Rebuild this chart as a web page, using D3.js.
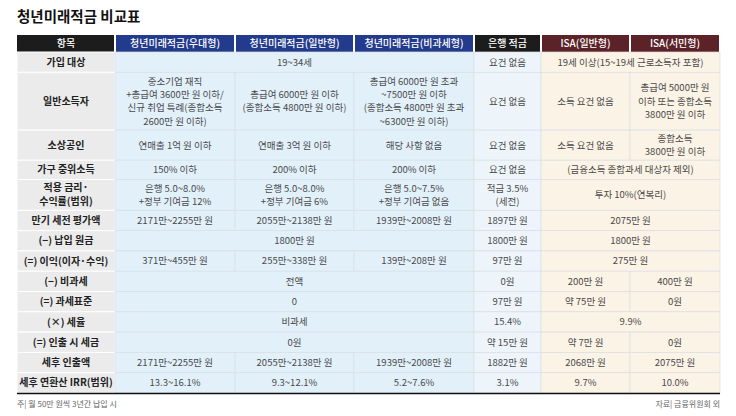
<!DOCTYPE html>
<html><head><meta charset="utf-8">
<script src="https://cdn.jsdelivr.net/npm/d3@7/dist/d3.min.js"></script>
<style>body{margin:0;background:#fff}svg{display:block;font-family:"Noto Sans CJK KR","Noto Sans",sans-serif}</style>
</head><body><svg id="c" width="736" height="416"></svg>
<script>
const title = "청년미래적금 비교표";
const headers = ["항목","청년미래적금(우대형)","청년미래적금(일반형)","청년미래적금(비과세형)","은행 적금","ISA(일반형)","ISA(서민형)"];
const rowLabels = ["가입 대상","일반소득자","소상공인","가구 중위소득","적용 금리·\n수익률(범위)","만기 세전 평가액","(−) 납입 원금","(=) 이익(이자·수익)","(−) 비과세","(=) 과세표준","(×) 세율","(=) 인출 시 세금","세후 인출액","세후 연환산 IRR(범위)"];
const rowLines = [1,2.85,1.48,0.95,1.52,1,1,1,1,1,1,1,1,1];
const cells = [
 [["19~34세",3],["요건 없음",1],["19세 이상(15~19세 근로소득자 포함)",2]],
 [["중소기업 재직\n+총급여 3600만 원 이하/\n신규 취업 특례(종합소득\n2600만 원 이하)",1],["총급여 6000만 원 이하\n(종합소득 4800만 원 이하)",1],["총급여 6000만 원 초과\n~7500만 원 이하\n(종합소득 4800만 원 초과\n~6300만 원 이하)",1],["요건 없음",1],["소득 요건 없음",1],["총급여 5000만 원\n이하 또는 종합소득\n3800만 원 이하",1]],
 [["연매출 1억 원 이하",1],["연매출 3억 원  이하",1],["해당 사항 없음",1],["요건 없음",1],["소득 요건 없음",1],["종합소득\n3800만 원 이하",1]],
 [["150% 이하",1],["200% 이하",1],["200% 이하",1],["요건 없음",1],["(금융소득 종합과세 대상자 제외)",2]],
 [["은행 5.0~8.0%\n+정부 기여금 12%",1],["은행 5.0~8.0%\n+정부 기여금 6%",1],["은행 5.0~7.5%\n+정부 기여금 없음",1],["적금 3.5%\n(세전)",1],["투자 10%(연복리)",2]],
 [["2171만~2255만 원",1],["2055만~2138만 원",1],["1939만~2008만 원",1],["1897만 원",1],["2075만 원",2]],
 [["1800만 원",3],["1800만 원",1],["1800만 원",2]],
 [["371만~455만 원",1],["255만~338만 원",1],["139만~208만 원",1],["97만 원",1],["275만 원",2]],
 [["전액",3],["0원",1],["200만 원",1],["400만 원",1]],
 [["0",3],["97만 원",1],["약 75만 원",1],["0원",1]],
 [["비과세",3],["15.4%",1],["9.9%",2]],
 [["0원",3],["약 15만 원",1],["약 7만 원",1],["0원",1]],
 [["2171만~2255만 원",1],["2055만~2138만 원",1],["1939만~2008만 원",1],["1882만 원",1],["2068만 원",1],["2075만 원",1]],
 [["13.3~16.1%",1],["9.3~12.1%",1],["5.2~7.6%",1],["3.1%",1],["9.7%",1],["10.0%",1]]
];
const note = "주| 월 50만 원씩 3년간 납입 시";
const source = "자료| 금융위원회 외";

const colEdges = [17,115,235,354,474,541,630,720];
const headFill = ["#1c1c1c","#233b8c","#233b8c","#233b8c","#1c1c1c","#5b2328","#5b2328"];
const bodyFill = ["#ebebeb","#e2f0fa","#e2f0fa","#e2f0fa","#eef5fa","#fbf3e6","#fbf3e6"];

const svg = d3.select("#c");
const x = d3.scaleLinear().domain(d3.range(colEdges.length)).range(colEdges);
const cum = [0]; rowLines.forEach((v,i)=>cum.push(cum[i]+v));
const y = d3.scaleLinear().domain([0, cum[cum.length-1]]).range([52, 393]);

svg.append("text").attr("x",17).attr("y",22).attr("font-size",14.5).attr("font-weight",700).attr("fill","#111").text(title);

function mtext(g, str, cx, cy, size, weight, fill){
  const lines = str.split("\n"); const lh = size*1.4;
  const t = g.append("text").attr("text-anchor","middle").attr("font-size",size).attr("font-weight",weight).attr("fill",fill);
  lines.forEach((l,i)=>t.append("tspan").attr("x",cx).attr("y",cy + (i-(lines.length-1)/2)*lh + size*0.36).text(l));
}

const hg = svg.append("g");
headers.forEach((h,i)=>{
  hg.append("rect").attr("x",x(i)+(i?1:0)).attr("y",35).attr("width",x(i+1)-x(i)-(i?1:0)-1).attr("height",17).attr("fill",headFill[i]);
  mtext(hg,h,(x(i)+x(i+1))/2,43.5,10,500,"#fff");
});

const bg = svg.append("g");
rowLabels.forEach((lab,r)=>{
  const y0=y(cum[r]), y1=y(cum[r+1]);
  bg.append("rect").attr("x",x(0)).attr("y",y0).attr("width",x(1)-x(0)).attr("height",y1-y0).attr("fill",bodyFill[0]).attr("stroke","#fff").attr("stroke-width",1);
  mtext(bg,lab,(x(0)+x(1))/2,(y0+y1)/2,10,700,"#222");
  let c=1;
  cells[r].forEach(([txt,span])=>{
    const xa=x(c), xb=x(c+span);
    bg.append("rect").attr("x",xa).attr("y",y0).attr("width",xb-xa).attr("height",y1-y0).attr("fill",bodyFill[c]).attr("stroke","#d9dfe4").attr("stroke-width",0.7);
    mtext(bg,txt,(xa+xb)/2,(y0+y1)/2,9.5,400,"#4a4a4a");
    c+=span;
  });
});
svg.append("line").attr("x1",17).attr("x2",720).attr("y1",393.5).attr("y2",393.5).attr("stroke","#111").attr("stroke-width",1.5);
svg.append("text").attr("x",17).attr("y",407).attr("font-size",8).attr("fill","#666").text(note);
svg.append("text").attr("x",720).attr("y",407).attr("text-anchor","end").attr("font-size",8).attr("fill","#666").text(source);
</script></body></html>
